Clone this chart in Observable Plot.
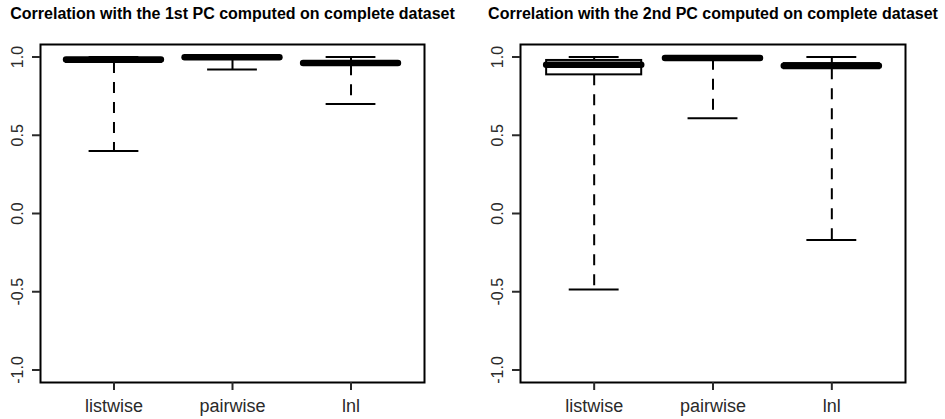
<!DOCTYPE html>
<html>
<head>
<meta charset="utf-8">
<script src="https://cdn.jsdelivr.net/npm/d3@7"></script>
<script src="https://cdn.jsdelivr.net/npm/@observablehq/plot@0.6"></script>
<style>
  html, body { margin: 0; padding: 0; background: #fff; }
  #wrap { display: flex; width: 945px; height: 419px; }
  #wrap svg { display: block; }
</style>
</head>
<body>
<div id="wrap"></div>
<script>
const categories = ["listwise", "pairwise", "lnl"];
const yTicks = [-1, -0.5, 0, 0.5, 1];
const yTickLabels = ["-1.0", "-0.5", "0.0", "0.5", "1.0"];
const titles = [
  "Correlation with the 1st PC computed on complete dataset",
  "Correlation with the 2nd PC computed on complete dataset"
];

// Panel 1: 1st PC
const pc1Lower  = [0.40, 0.92, 0.70];
const pc1Q1     = [0.965, 0.99, 0.95];
const pc1Median = [0.984, 0.998, 0.962];
const pc1Q3     = [0.99, 1.0, 0.97];
const pc1Upper  = [1.0, 1.0, 1.0];

// Panel 2: 2nd PC
const pc2Lower  = [-0.485, 0.609, -0.169];
const pc2Q1     = [0.886, 0.985, 0.925];
const pc2Median = [0.95, 0.994, 0.945];
const pc2Q3     = [0.978, 0.998, 0.958];
const pc2Upper  = [1.0, 1.0, 1.0];

function stats(lower, q1, med, q3, upper) {
  return categories.map((c, i) => ({
    pos: i + 1, lower: lower[i], q1: q1[i], median: med[i], q3: q3[i], upper: upper[i]
  }));
}

const boxHalf = 0.4, stapleHalf = 0.21;

function panel(data, title, width, ml, mr) {
  return Plot.plot({
    width, height: 419,
    marginLeft: ml, marginRight: mr, marginTop: 44, marginBottom: 37,
    style: { fontFamily: "'Liberation Sans', Arial, Helvetica, sans-serif", color: "#2a2a2a", background: "#fff" },
    x: { type: "linear", domain: [0.38, 3.62], axis: null, label: null },
    y: { domain: [-1.08, 1.08], axis: null, label: null },
    marks: [
      // whiskers (dashed)
      Plot.ruleX(data, { x: "pos", y1: "q1", y2: "lower", stroke: "black", strokeWidth: 2, strokeDasharray: "11,9" }),
      Plot.ruleX(data, { x: "pos", y1: "q3", y2: "upper", stroke: "black", strokeWidth: 2, strokeDasharray: "11,9" }),
      // staples
      Plot.ruleY(data, { y: "lower", x1: d => d.pos - stapleHalf, x2: d => d.pos + stapleHalf, stroke: "black", strokeWidth: 2 }),
      Plot.ruleY(data, { y: "upper", x1: d => d.pos - stapleHalf, x2: d => d.pos + stapleHalf, stroke: "black", strokeWidth: 2 }),
      // box
      Plot.rect(data, { x1: d => d.pos - boxHalf, x2: d => d.pos + boxHalf, y1: "q1", y2: "q3", fill: "white", stroke: "black", strokeWidth: 2 }),
      // median
      Plot.ruleY(data, { y: "median", x1: d => d.pos - boxHalf, x2: d => d.pos + boxHalf, stroke: "black", strokeWidth: 6.5, strokeLinecap: "round" }),
      Plot.frame({ stroke: "black", strokeWidth: 2 }),
      Plot.axisY({ ticks: yTicks, tickFormat: d => yTickLabels[yTicks.indexOf(d)], tickSize: 8, tickPadding: 10, tickRotate: -90, fontSize: 16, strokeWidth: 2, label: null }),
      Plot.axisX({ ticks: [1, 2, 3], tickFormat: d => categories[d - 1], tickSize: 8, tickPadding: 9, fontSize: 18, strokeWidth: 2, label: null }),
      Plot.text([title], { frameAnchor: "top", dy: -26, lineAnchor: "bottom", fontWeight: "bold", fontSize: 16, fill: "black" })
    ]
  });
}

const wrap = document.getElementById("wrap");
wrap.appendChild(panel(stats(pc1Lower, pc1Q1, pc1Median, pc1Q3, pc1Upper), titles[0], 472, 40, 48));
wrap.appendChild(panel(stats(pc2Lower, pc2Q1, pc2Median, pc2Q3, pc2Upper), titles[1], 473, 48, 40));
</script>
</body>
</html>
